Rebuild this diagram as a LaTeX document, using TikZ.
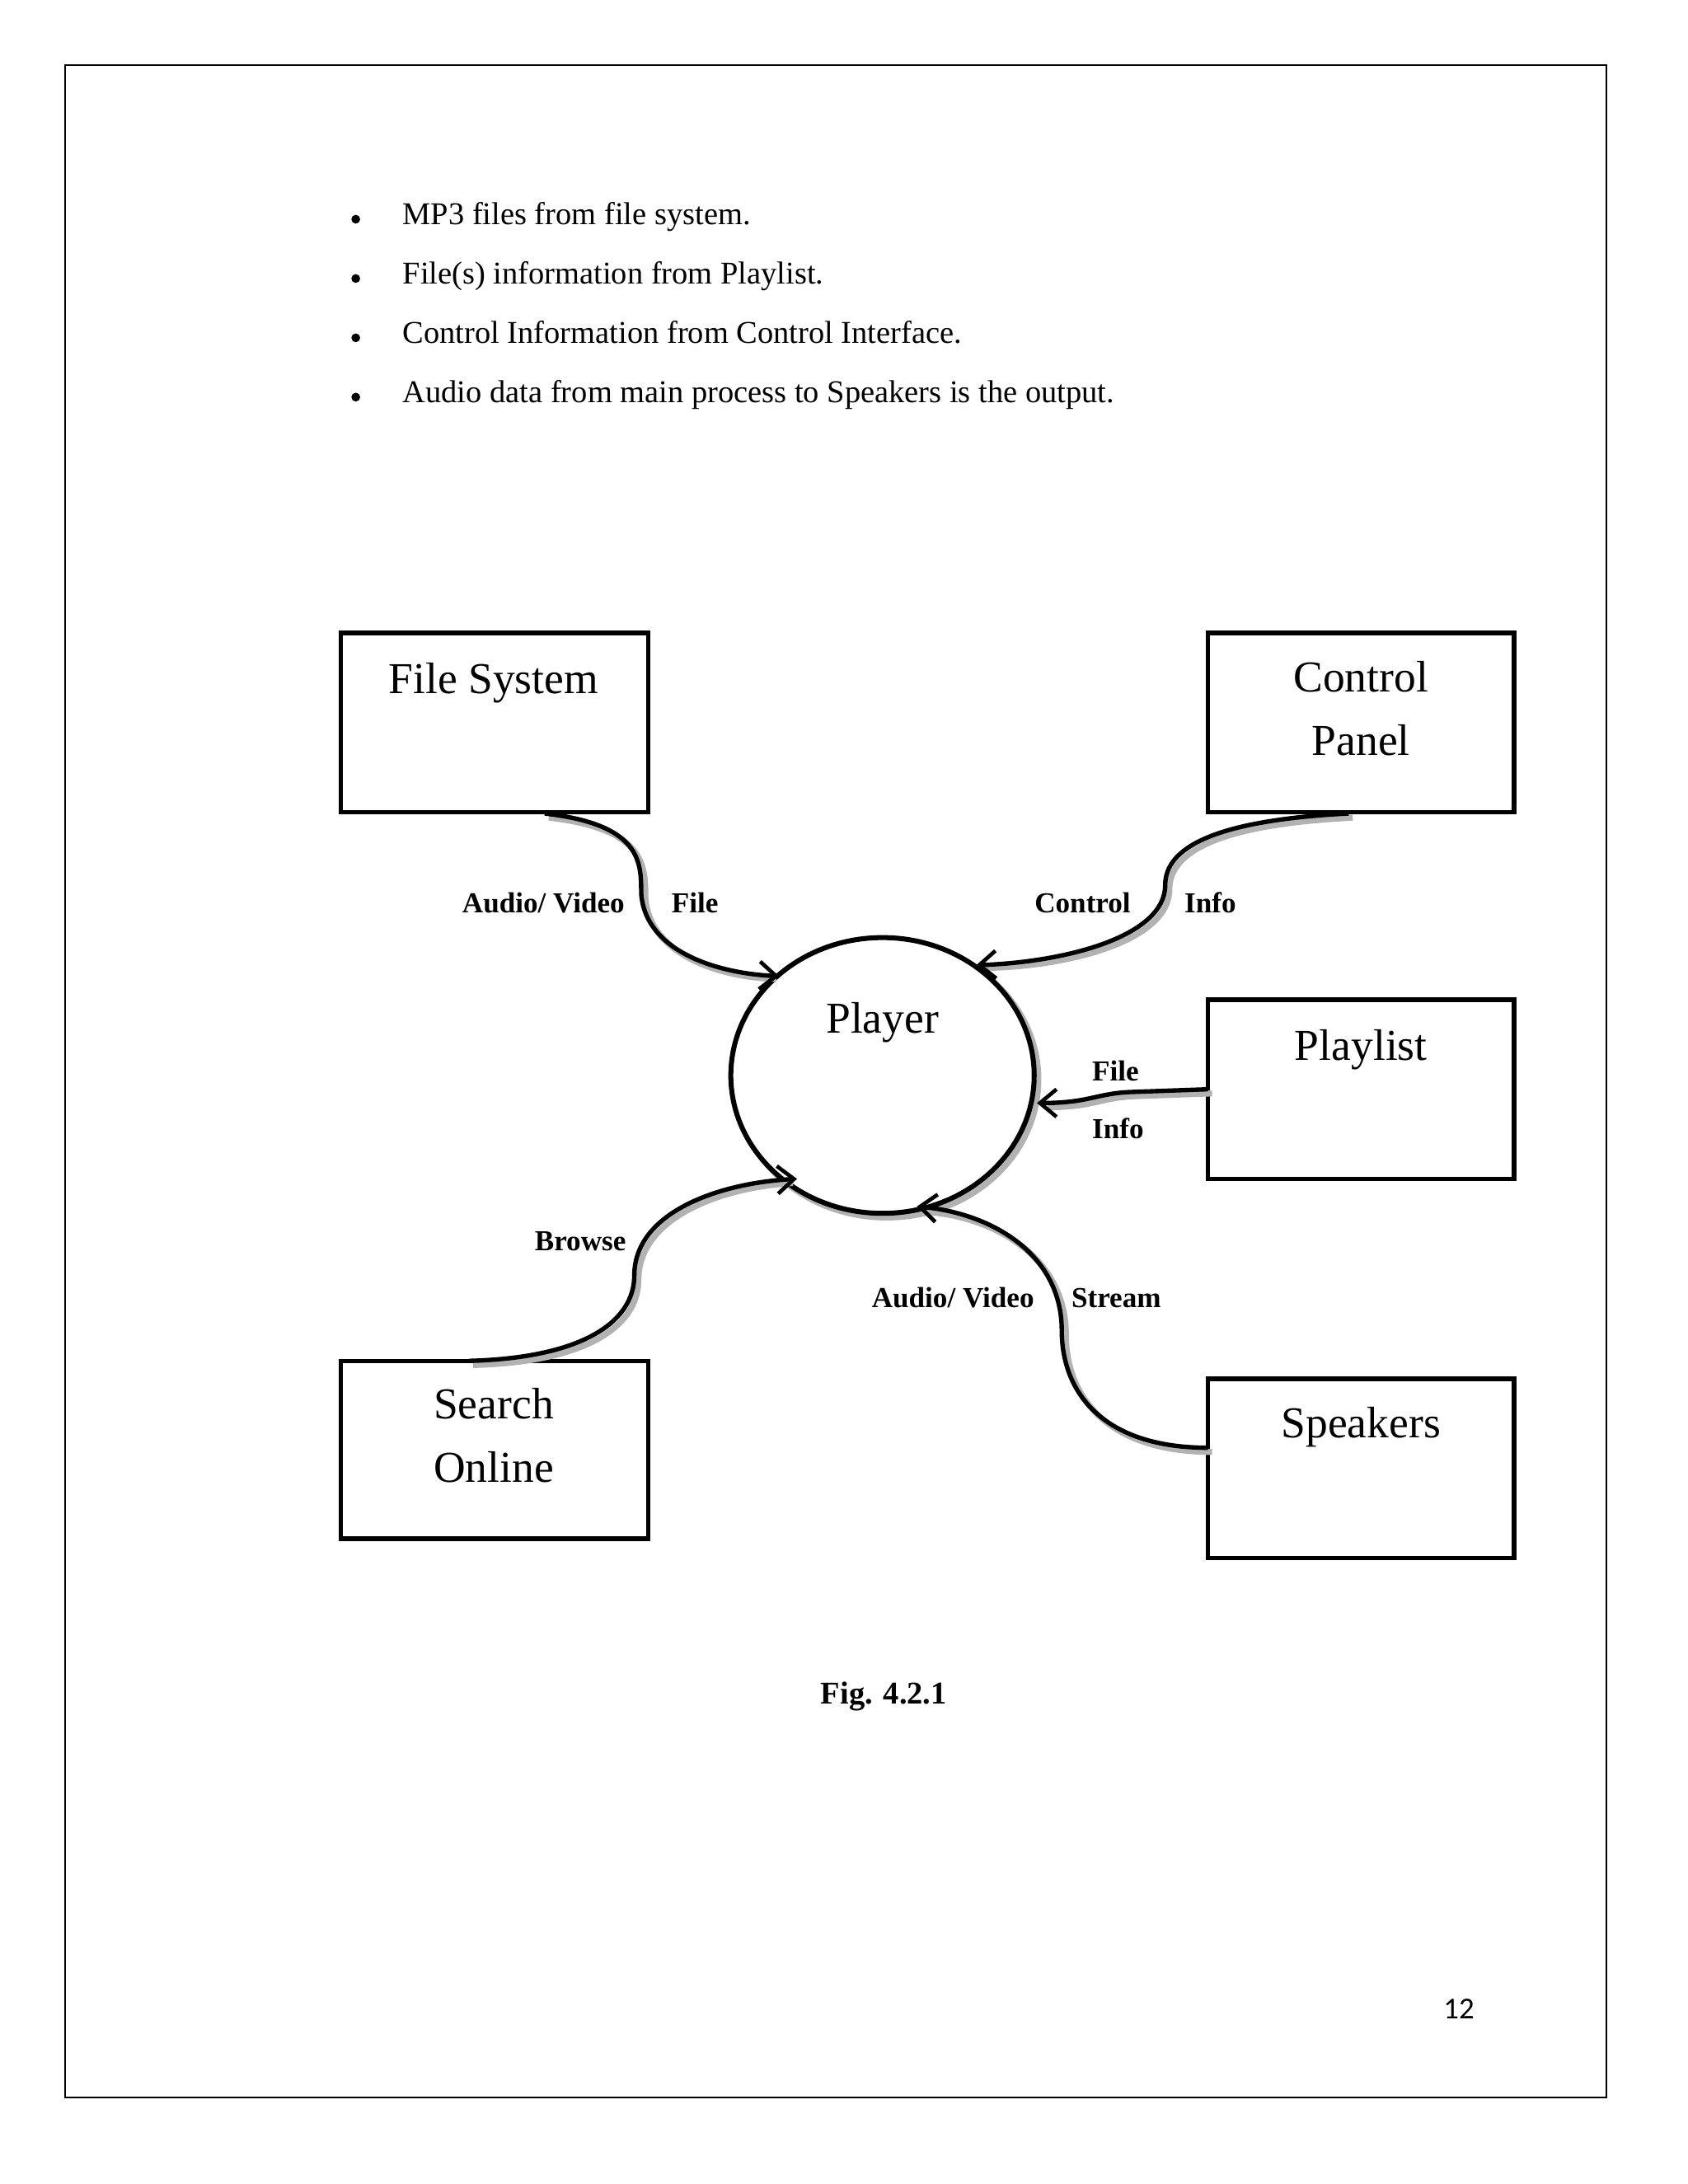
\documentclass[tikz,border=0pt]{standalone}
\usepackage{fontspec}
\setmainfont{Liberation Serif}
\newfontfamily\pgnum{Carlito}
\usetikzlibrary{arrows.meta}
\begin{document}
\begin{tikzpicture}[x=0.5pt,y=-0.5pt,
  box/.style={draw,line width=1.6pt},
  btxt/.style={font=\fontsize{16}{19}\selectfont,align=center,anchor=base},
  lbl/.style={font=\bfseries\fontsize{10.5}{12}\selectfont,anchor=base},
  bul/.style={font=\fontsize{11.5}{14}\selectfont,anchor=base west},
  flow/.style={line width=1.6pt,-{Straight Barb[length=6pt,width=10pt,line width=1.4pt]}},
  shadow/.style={line width=2.2pt,gray!60,shift={(3,3)}}]
\useasboundingbox (0,0) rectangle (1224,1584);
\draw[line width=0.6pt] (47,47) rectangle (1165,1521);
% bullets
\foreach \y/\t in {163/MP3 files from file system.,206/File(s) information from Playlist.,249/Control Information from Control Interface.,292/Audio data from main process to Speakers is the output.}{
  \node[bul] at (285,\y) {\t};
  \fill (258,\y-4) circle (3.2);
}
% boxes
\draw[box] (247,459) rectangle (470,589); \node[btxt] (fs) at (358,503) {File System};
\draw[box] (876,459) rectangle (1098,589); \node[btxt] (cp) at (987,502) {Control};
\node[btxt] (cp2) at (987,548) {Panel};
\draw[box] (876,725) rectangle (1098,855); \node[btxt] (pl) at (987,769) {Playlist};
\draw[box] (247,987) rectangle (470,1116); \node[btxt] (so) at (358,1029) {Search};
\node[btxt] (so2) at (358,1075) {Online};
\draw[box] (876,1000) rectangle (1098,1130); \node[btxt] (sp) at (987,1043) {Speakers};
% player
\draw[line width=2.2pt,gray!60] (643,783) ellipse (110 and 100);
\draw[line width=1.8pt,fill=white] (640,780) ellipse (110 and 100);
\node[btxt] (pa) at (640,749) {Player};
% flows: shadows
\draw[shadow] (395,590) .. controls (465,598) and (465,625) .. (465,648) .. controls (468,690) and (520,706) .. (560,707);
\draw[shadow] (978,590) .. controls (880,595) and (845,615) .. (845,642) .. controls (845,680) and (770,698) .. (712,699);
\draw[shadow] (876,790) -- (820,792) .. controls (795,793) and (790,800) .. (757,800);
\draw[shadow] (340,987) .. controls (420,985) and (460,960) .. (460,925) .. controls (460,880) and (520,858) .. (572,855);
\draw[shadow] (876,1050) .. controls (800,1050) and (770,1010) .. (770,965) .. controls (770,910) and (720,880) .. (670,876);
% flows
\coordinate (a1) at (395,590); \coordinate (a2) at (565,708);
\draw[flow] (a1) .. controls (465,598) and (465,625) .. (465,648) .. controls (468,690) and (520,706) .. (a2);
\coordinate (b1) at (978,590); \coordinate (b2) at (708,700);
\draw[flow] (b1) .. controls (880,595) and (845,615) .. (845,642) .. controls (845,680) and (770,698) .. (b2);
\coordinate (c1) at (876,790); \coordinate (c2) at (752,800);
\draw[flow] (c1) -- (820,792) .. controls (795,793) and (790,800) .. (c2);
\coordinate (d1) at (340,987); \coordinate (d2) at (578,855);
\draw[flow] (d1) .. controls (420,985) and (460,960) .. (460,925) .. controls (460,880) and (520,858) .. (d2);
\coordinate (e1) at (876,1050); \coordinate (e2) at (665,875);
\draw[flow] (e1) .. controls (800,1050) and (770,1010) .. (770,965) .. controls (770,910) and (720,880) .. (e2);
% labels
\node[lbl,anchor=base east] (l1) at (460,662) {Audio/ Video};
\node[lbl,anchor=base west] (l2) at (480,662) {File};
\node[lbl,anchor=base east] (l3) at (827,662) {Control};
\node[lbl,anchor=base west] (l4) at (852,662) {Info};
\node[lbl,anchor=base west] (l5) at (785,784) {File};
\node[lbl,anchor=base west] (l6) at (785,826) {Info};
\node[lbl,anchor=base east] (l7) at (461,907) {Browse};
\node[lbl,anchor=base east] (l8) at (757,948) {Audio/ Video};
\node[lbl,anchor=base west] (l9) at (770,948) {Stream};
\node[font=\bfseries\fontsize{11.5}{14}\selectfont,anchor=base] (fig) at (641,1236) {Fig. 4.2.1};
\node[font=\pgnum\fontsize{11}{13}\selectfont,anchor=base] (pn) at (1058,1464) {12};
\end{tikzpicture}
\end{document}
